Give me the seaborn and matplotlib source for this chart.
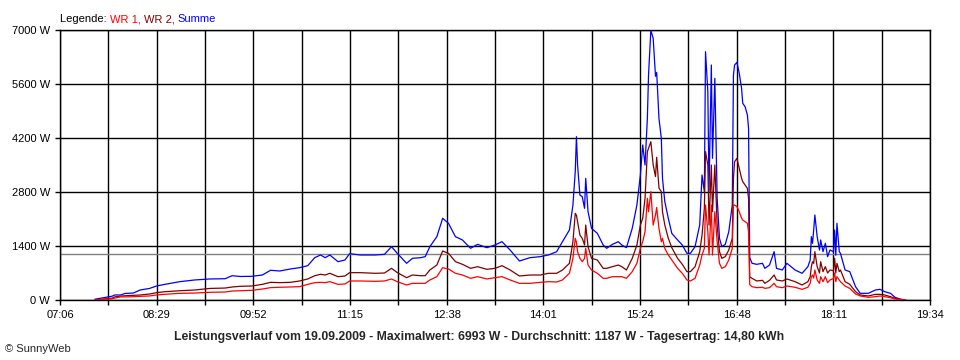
import matplotlib
matplotlib.use("Agg")
import pandas as pd
import seaborn as sns
import matplotlib.pyplot as plt
from matplotlib.offsetbox import TextArea, HPacker, AnchoredOffsetbox

# =============================================================================
# Leistungsverlauf 19.09.2009 (SunnyWeb)
# =============================================================================

zeit = [
    "07:36", "07:51", "07:53", "07:58", "08:02", "08:09", "08:15", "08:23", "08:29", "08:36",
    "08:49", "09:02", "09:15", "09:28", "09:34", "09:41", "09:51", "10:00", "10:07", "10:15",
    "10:24", "10:32", "10:39", "10:45", "10:50", "10:54", "10:58", "11:05", "11:11", "11:15",
    "11:24", "11:37", "11:45", "11:51", "11:56", "12:04", "12:09", "12:16", "12:20", "12:24",
    "12:30", "12:35", "12:40", "12:46", "12:52", "12:59", "13:05", "13:13", "13:20", "13:26",
    "13:33", "13:41", "13:50", "13:59", "14:06", "14:13", "14:18", "14:24", "14:27", "14:29",
    "14:30", "14:31", "14:33", "14:35", "14:37", "14:38", "14:40", "14:43", "14:48", "14:53",
    "14:56", "15:01", "15:06", "15:09", "15:13", "15:18", "15:22", "15:25", "15:27", "15:29",
    "15:31", "15:32", "15:34", "15:36", "15:38", "15:39", "15:41", "15:43", "15:44", "15:46",
    "15:49", "15:52", "15:57", "16:01", "16:05", "16:08", "16:12", "16:16", "16:18", "16:20",
    "16:21", "16:23", "16:24", "16:26", "16:27", "16:29", "16:31", "16:33", "16:35", "16:38",
    "16:41", "16:44", "16:45", "16:46", "16:48", "16:50", "16:52", "16:53", "16:55", "16:57",
    "16:58", "16:59", "17:01", "17:05", "17:10", "17:12", "17:16", "17:20", "17:22", "17:27",
    "17:31", "17:38", "17:44", "17:49", "17:51", "17:52", "17:53", "17:54", "17:55", "17:57",
    "17:59", "18:00", "18:02", "18:04", "18:06", "18:08", "18:11", "18:12", "18:13", "18:14",
    "18:16", "18:17", "18:21", "18:25", "18:30", "18:34", "18:41", "18:47", "18:51", "18:55",
    "19:00", "19:04", "19:08", "19:13",
]

wr1 = [
    0, 30, 50, 80, 80, 85, 95, 105, 130, 148,
    173, 180, 200, 207, 233, 240, 251, 285, 320, 330,
    337, 345, 406, 450, 458, 450, 475, 406, 415, 493,
    493, 484, 493, 545, 475, 389, 432, 432, 432, 519,
    605, 838, 804, 692, 648, 562, 605, 545, 579, 605,
    519, 432, 432, 458, 475, 467, 519, 692, 1080, 1599,
    1500, 1253, 1080, 994, 1080, 1340, 907, 778, 692, 562,
    562, 605, 605, 605, 562, 735, 951, 1340, 1512, 1771,
    2636, 2290, 2809, 1944, 2200, 2400, 1850, 1512, 1599, 1340,
    1167, 1037, 821, 692, 519, 493, 562, 907, 1167, 1340,
    2463, 1771, 1167, 2463, 1167, 2290, 1512, 951, 821, 864,
    1037, 1340, 2463, 2463, 2420, 2290, 2118, 2074, 2031, 1988,
    1771, 400, 345, 320, 330, 302, 320, 432, 345, 320,
    363, 330, 277, 330, 432, 605, 648, 570, 778, 519,
    432, 605, 475, 605, 450, 519, 560, 700, 475, 605,
    519, 475, 363, 302, 156, 104, 69, 86, 104, 86,
    60, 26, 8, 0,
]

wr2 = [
    0, 50, 80, 100, 110, 120, 130, 155, 190, 215,
    240, 260, 300, 310, 337, 355, 363, 406, 458, 450,
    458, 493, 545, 630, 666, 648, 692, 605, 622, 709,
    709, 692, 700, 821, 710, 579, 648, 630, 630, 778,
    907, 1270, 1210, 994, 925, 821, 864, 795, 821, 890,
    778, 622, 648, 648, 692, 692, 778, 951, 1512, 2247,
    2200, 2031, 1685, 1599, 1426, 1944, 1383, 1080, 1037, 821,
    821, 864, 907, 864, 778, 1080, 1426, 1944, 2118, 2636,
    3846, 3932, 4105, 3500, 3200, 3700, 2900, 2809, 2290, 1944,
    1599, 1357, 1080, 925, 735, 735, 864, 1253, 1685, 2377,
    3846, 3500, 1944, 3500, 2290, 3500, 1944, 1253, 1080, 1124,
    1296, 1599, 3154, 3586, 3673, 3414, 3154, 3068, 2982, 2896,
    2636, 600, 562, 493, 510, 432, 510, 648, 519, 493,
    545, 475, 389, 475, 605, 864, 994, 950, 1253, 864,
    700, 994, 735, 864, 700, 778, 760, 1080, 700, 950,
    735, 778, 475, 406, 216, 130, 104, 147, 147, 130,
    86, 43, 13, 0,
]

summe = [
    20, 100, 130, 130, 170, 180, 260, 300, 363, 405,
    475, 520, 545, 552, 630, 610, 614, 648, 770, 752,
    804, 838, 890, 1097, 1167, 1097, 1167, 994, 1037, 1201,
    1167, 1167, 1184, 1383, 1210, 951, 1080, 1097, 1124, 1383,
    1642, 2118, 1988, 1642, 1556, 1340, 1443, 1357, 1426, 1512,
    1296, 1011, 1097, 1124, 1167, 1253, 1512, 1815, 2463, 3327,
    4235, 3500, 2722, 2679, 2377, 3154, 2290, 1858, 1728, 1426,
    1340, 1443, 1512, 1426, 1357, 1858, 2463, 3241, 4019, 3500,
    4710, 5833, 6993, 6785, 5800, 5900, 4700, 4192, 3154, 2549,
    2118, 1728, 1556, 1426, 1210, 1210, 1383, 1944, 3241, 2809,
    6438, 5401, 2809, 6093, 3673, 5747, 2636, 1599, 1383, 1443,
    1771, 2463, 5833, 6093, 6162, 5877, 5488, 5099, 5013, 4797,
    4451, 1100, 951, 925, 951, 821, 907, 1253, 821, 778,
    951, 778, 692, 864, 1037, 1642, 1469, 1815, 2204, 1642,
    1296, 1556, 1253, 1469, 1124, 1296, 1253, 1815, 1160, 1988,
    1253, 1210, 778, 735, 345, 173, 173, 259, 277, 216,
    173, 69, 26, 0,
]

x_beschriftung = ["07:06", "08:29", "09:52", "11:15", "12:38",
                  "14:01", "15:24", "16:48", "18:11", "19:34"]
y_werte = [0, 1400, 2800, 4200, 5600, 7000]
durchschnitt = 1187

titel = ("Leistungsverlauf vom 19.09.2009 - Maximalwert: 6993 W - "
         "Durchschnitt: 1187 W - Tagesertrag: 14,80 kWh")


def minuten(t):
    h, m = t.split(":")
    return int(h) * 60 + int(m)


df = pd.DataFrame({"zeit": [minuten(t) for t in zeit],
                   "WR 1": wr1, "WR 2": wr2, "Summe": summe})
df_long = df.melt(id_vars="zeit", var_name="serie", value_name="leistung")

sns.set_style("white")
plt.rcParams["font.family"] = ["Liberation Sans", "DejaVu Sans"]

farben = {"WR 1": "#ff0000", "WR 2": "#800000", "Summe": "#0000ff"}

fig = plt.figure(figsize=(9.6, 3.6), dpi=100)
ax = fig.add_axes([60 / 960, 60 / 360, 870 / 960, 270 / 360])

# Gitter alle halbe Beschriftungsabstaende
x0, x1 = minuten(x_beschriftung[0]), minuten(x_beschriftung[-1])
n_grid = 2 * (len(x_beschriftung) - 1)
x_ticks = [x0 + i * (x1 - x0) / n_grid for i in range(n_grid + 1)]
x_labels = [x_beschriftung[i // 2] if i % 2 == 0 else "" for i in range(n_grid + 1)]

ax.axhline(durchschnitt, color="#808080", lw=1.0, zorder=1)

sns.lineplot(data=df_long, x="zeit", y="leistung", hue="serie",
             hue_order=["Summe", "WR 2", "WR 1"], palette=farben,
             estimator=None, errorbar=None, linewidth=0.9,
             legend=False, ax=ax, zorder=3)

ax.set_xlim(x0, x1)
ax.set_ylim(0, 7000)
ax.set_xticks(x_ticks)
ax.set_xticklabels(x_labels)
ax.set_yticks(y_werte)
ax.set_yticklabels([f"{v} W" for v in y_werte])
ax.set_xlabel("")
ax.set_ylabel("")
ax.grid(True, color="black", lw=1.0, zorder=0)
ax.set_axisbelow(True)
for s in ax.spines.values():
    s.set_visible(True)
    s.set_color("black")
    s.set_linewidth(1.0)
ax.tick_params(bottom=True, left=True, direction="out", length=3.6,
               width=1.0, color="black", labelsize=8, pad=3.5,
               labelcolor="black")

# Legende oben links
teile = [("Legende: ", "black"), ("WR 1, ", farben["WR 1"]),
         ("WR 2, ", farben["WR 2"]), ("Summe", farben["Summe"])]
boxes = [TextArea(t, textprops=dict(color=c, fontsize=8)) for t, c in teile]
leg = AnchoredOffsetbox(loc="lower left", child=HPacker(children=boxes, pad=0, sep=0),
                        frameon=False, bbox_to_anchor=(60 / 960, 1 - 24 / 360),
                        bbox_transform=fig.transFigure, borderpad=0, pad=0)
fig.add_artist(leg)

fig.text(479 / 960, 1 - 337 / 360, titel, ha="center", va="center",
         fontsize=8.8, fontweight="bold")
fig.text(5 / 960, 1 - 349 / 360, "© SunnyWeb", ha="left", va="center", fontsize=8)

fig.savefig("out.png", dpi=100, facecolor="white")
